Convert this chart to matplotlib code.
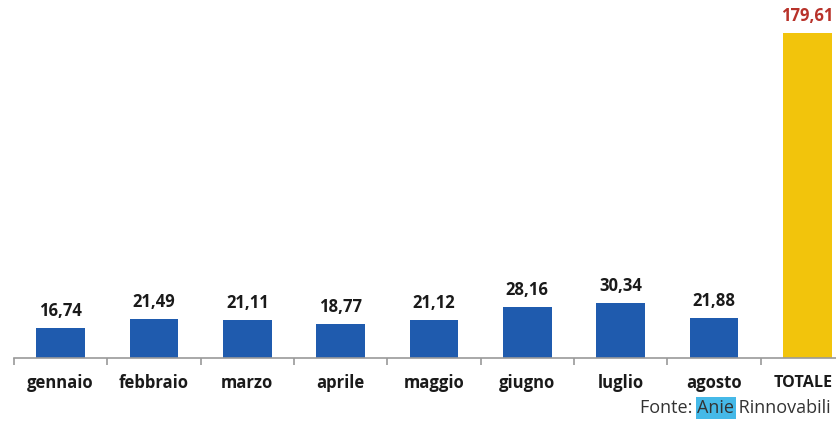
import matplotlib.pyplot as plt

# Dati mensili (MW) e totale
mesi = ['gennaio', 'febbraio', 'marzo', 'aprile', 'maggio', 'giugno', 'luglio', 'agosto', 'TOTALE']
valori = [16.74, 21.49, 21.11, 18.77, 21.12, 28.16, 30.34, 21.88, 179.61]
etichette = ['16,74', '21,49', '21,11', '18,77', '21,12', '28,16', '30,34', '21,88', '179,61']

blu = '#1F5BAE'
oro = '#F2C40C'
colori = [blu] * 8 + [oro]

fig = plt.figure(figsize=(8.36, 4.22), dpi=100)
ax = fig.add_axes([14 / 836, 1 - 358 / 422, 840 / 836, 358 / 422])

x = range(len(mesi))
bars = ax.bar(x, valori, width=0.52, color=colori, zorder=2)

ax.set_xlim(-0.5, len(mesi) - 0.5)
ax.set_ylim(0, 198)

for b, val, txt, i in zip(bars, valori, etichette, x):
    col = '#B8322A' if i == len(mesi) - 1 else '#1a1a1a'
    ax.text(b.get_x() + b.get_width() / 2, val + 9.5, txt, ha='center', va='center',
            fontsize=12, fontweight='bold', color=col, family='Open Sans')

for s in ['top', 'right', 'left']:
    ax.spines[s].set_visible(False)
ax.spines['bottom'].set_color('#9a9a9a')
ax.spines['bottom'].set_linewidth(1.2)
ax.set_yticks([])

# tacche tra le categorie
ax.set_xticks([i - 0.5 for i in range(len(mesi) + 1)])
ax.set_xticklabels([])
ax.tick_params(axis='x', length=5, color='#9a9a9a', width=1.2)
for i, m in enumerate(mesi):
    fs = 11.6 if m == 'TOTALE' else 12
    ax.text(i - (0.045 if m == 'TOTALE' else 0), -14, m, ha='center', va='center',
            fontsize=fs, fontweight='bold', color='#1a1a1a', family='Open Sans')

# fonte, con "Anie" evidenziato, allineata a destra
fig.canvas.draw()
r = fig.canvas.get_renderer()
ypos = 1 - 408 / 422
parti = [('Fonte: ', False), ('Anie', True), (' Rinnovabili', False)]
testi = []
for parte, evid in parti:
    kw = dict(fontsize=13, color='#333333', family=['Liberation Sans Narrow', 'Open Sans'],
              va='center', ha='left')
    if evid:
        kw['bbox'] = dict(boxstyle='square,pad=0.1', facecolor='#45B9E8', edgecolor='none')
    testi.append(fig.text(0, ypos, parte, **kw))
larghezze = [t.get_window_extent(renderer=r).width for t in testi]
xpos = 831 - sum(larghezze)
for t, w in zip(testi, larghezze):
    t.set_x(xpos / 836)
    xpos += w

fig.savefig('out.png', dpi=100, facecolor='white')
